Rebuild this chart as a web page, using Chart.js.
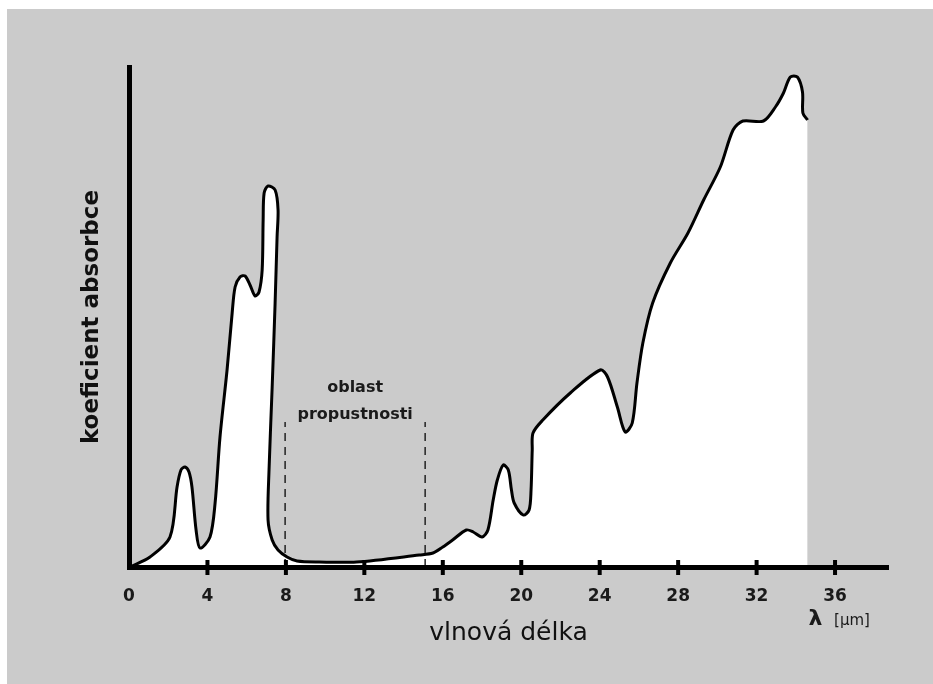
<!DOCTYPE html>
<html>
<head>
<meta charset="utf-8">
<script src="https://cdn.jsdelivr.net/npm/chart.js@4/dist/chart.umd.min.js"></script>
<style>
    body { margin: 0; background: #ffffff; }
    #wrap { position: absolute; left: 7px; top: 9px; width: 926px; height: 675px; background: #cbcbcb; }
</style>
</head>
<body>
<div id="wrap"><canvas id="myChart" width="926" height="675"></canvas></div>
<script>
// wavelength (um) and absorption (relative, 0-100)
// the tall peak near 7 um leans back a little, so x is not strictly increasing there
const wavelength = [0.05, 1.07, 2.09, 2.45, 2.65, 2.86, 3.06, 3.21, 3.42, 3.62, 4.13, 4.39, 4.64, 5.0, 5.26, 5.41, 5.66, 5.92, 6.17, 6.43,
    6.63, 6.79, 6.84, 6.89, 7.09, 7.45, 7.6, 7.55, 7.45, 7.3, 7.14, 7.09, 7.3, 7.6, 8.06, 8.57, 9.7, 11.6, 14.8, 15.5,
    16.0, 16.5, 17.2, 17.55, 18.0, 18.3, 18.57, 18.78, 19.08, 19.34, 19.5, 19.64, 20.1, 20.4, 20.5, 20.56, 20.6, 21.1, 22.5, 24.03,
    24.4, 24.9, 25.3, 25.66, 25.9, 26.2, 26.7, 27.6, 28.5, 29.3, 30.15, 30.8, 31.3, 32.35, 32.96, 33.37, 33.72, 34.08, 34.34, 34.36, 34.6]
const absorption = [0, 2.0, 6, 16, 19.4, 20, 19, 16, 7.4, 3.8, 6, 12.8, 26, 39.4, 50.8, 56, 58, 58.2, 56.4, 54.2,
    55, 59.4, 69.4, 74.8, 76.2, 75.4, 71.4, 66, 52.8, 36, 19.4, 9.4, 5.4, 3.4, 2, 1.2, 1.0, 1.0, 2.4, 2.8,
    4, 5.4, 7.4, 7, 6, 7.4, 13.4, 17.4, 20.4, 19.4, 15.4, 12.8, 10.4, 11.4, 15.4, 23.4, 26.8, 29.4, 34.8, 39.4,
    38, 32, 27, 28.8, 36.8, 44.8, 52.8, 60.8, 66.8, 73.4, 80, 87.4, 89.2, 89.2, 92, 94.8, 98, 98, 95, 90.8, 89.4]

// "oblast propustnosti" window borders
const windowStart = 7.96
const windowEnd = 15.1
const windowTop = 29

const tickLabels = [0, 4, 8, 12, 16, 20, 24, 28, 32, 36]

const curve = wavelength.map((x, i) => ({ x: x, y: absorption[i] }))

const extras = {
    id: "extras",
    afterDraw(chart) {
        const ctx = chart.ctx
        const x = chart.scales.x
        const y = chart.scales.y
        const bottom = chart.chartArea.bottom
        ctx.save()
        // tick marks crossing the axis
        ctx.strokeStyle = "#000000"
        ctx.lineWidth = 4
        tickLabels.forEach((v) => {
            if (v === 0) return
            const px = x.getPixelForValue(v)
            ctx.beginPath()
            ctx.moveTo(px, bottom - 7)
            ctx.lineTo(px, bottom + 8)
            ctx.stroke()
        })
        // window label
        ctx.fillStyle = "#1a1a1a"
        ctx.font = "bold 16px 'DejaVu Sans'"
        ctx.textAlign = "center"
        ctx.textBaseline = "middle"
        const cx = x.getPixelForValue((windowStart + windowEnd) / 2)
        ctx.fillText("oblast", cx, y.getPixelForValue(35.8))
        ctx.fillText("propustnosti", cx, y.getPixelForValue(30.4))
        // unit
        ctx.textAlign = "left"
        ctx.font = "bold 22px 'DejaVu Sans'"
        ctx.fillText("λ", x.getPixelForValue(34.65), bottom + 52)
        ctx.font = "15px 'DejaVu Sans'"
        ctx.fillText("[μm]", x.getPixelForValue(35.95), bottom + 54)
        ctx.restore()
    }
}

new Chart(document.getElementById("myChart"), {
    type: "line",
    data: {
        datasets: [{
            data: curve,
            borderColor: "#000000",
            borderWidth: 3,
            backgroundColor: "#ffffff",
            fill: "origin",
            pointRadius: 0,
            tension: 0.3,
            order: 1
        }, {
            data: [{ x: windowStart, y: 0 }, { x: windowStart, y: windowTop }],
            borderColor: "#222222",
            borderWidth: 1.5,
            borderDash: [8, 6],
            fill: false,
            pointRadius: 0,
            order: 0
        }, {
            data: [{ x: windowEnd, y: 0 }, { x: windowEnd, y: windowTop }],
            borderColor: "#222222",
            borderWidth: 1.5,
            borderDash: [8, 6],
            fill: false,
            pointRadius: 0,
            order: 0
        }]
    },
    options: {
        responsive: false,
        animation: false,
        devicePixelRatio: 1,
        layout: { padding: { top: 58, right: 45, left: 0, bottom: 0 } },
        plugins: {
            legend: { display: false },
            tooltip: { enabled: false }
        },
        scales: {
            x: {
                type: "linear",
                min: 0,
                max: 38.7,
                grid: { display: false, drawTicks: false },
                border: { display: true, color: "#000000", width: 5, z: 1 },
                afterBuildTicks: (scale) => { scale.ticks = tickLabels.map((v) => ({ value: v })) },
                ticks: {
                    padding: 19,
                    color: "#1a1a1a",
                    font: { family: "DejaVu Sans", size: 17, weight: "bold" }
                },
                title: {
                    display: true,
                    text: "vlnová délka",
                    color: "#111111",
                    padding: { top: 0, bottom: 36 },
                    font: { family: "DejaVu Sans", size: 25 }
                },
                afterFit: (scale) => { scale.height = 117 }
            },
            y: {
                min: 0,
                max: 100,
                grid: { display: false, drawTicks: false },
                border: { display: true, color: "#000000", width: 5, z: 1 },
                ticks: { display: false },
                title: {
                    display: true,
                    text: "koeficient absorbce",
                    color: "#111111",
                    padding: { top: 71, bottom: 0 },
                    font: { family: "DejaVu Sans", size: 23, weight: "bold" }
                },
                afterFit: (scale) => { scale.width = 122 }
            }
        }
    },
    plugins: [extras]
})
</script>
</body>
</html>
